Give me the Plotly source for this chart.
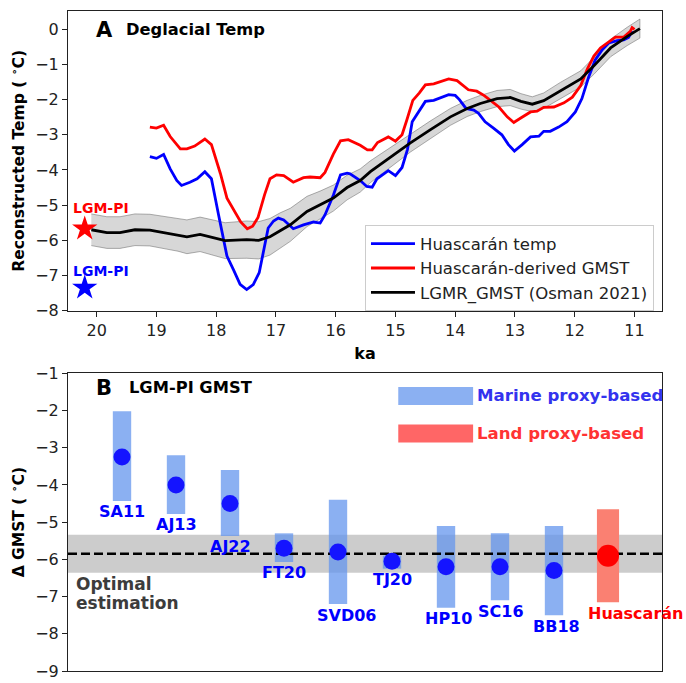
import plotly.graph_objects as go

# ---------------- Panel A: deglacial temperature records ----------------
huascaran_ka = [19.11, 19.00, 18.88, 18.77, 18.66, 18.58, 18.44, 18.32, 18.19, 18.08,
                17.96, 17.82, 17.71, 17.60, 17.49, 17.38, 17.28, 17.21, 17.13, 17.04,
                16.96, 16.87, 16.71, 16.54, 16.37, 16.26, 16.18, 16.04, 15.92, 15.81,
                15.76, 15.59, 15.48, 15.39, 15.31, 15.12, 15.00, 14.89, 14.80, 14.72,
                14.61, 14.50, 14.36, 14.22, 14.11, 14.00, 13.93, 13.82, 13.69, 13.61,
                13.50, 13.36, 13.22, 13.11, 13.01, 12.88, 12.74, 12.60, 12.52, 12.41,
                12.27, 12.13, 11.99, 11.88, 11.77, 11.66, 11.54, 11.43, 11.29, 11.18,
                11.10, 11.04]
huascaran_temp = [-3.62, -3.67, -3.56, -3.97, -4.30, -4.44, -4.35, -4.25, -4.05, -4.25,
                  -5.28, -6.45, -6.84, -7.25, -7.40, -7.26, -6.92, -6.30, -5.65, -5.45,
                  -5.37, -5.42, -5.67, -5.56, -5.48, -5.51, -5.28, -4.72, -4.14, -4.09,
                  -4.11, -4.30, -4.47, -4.49, -4.25, -4.02, -4.16, -3.93, -3.42, -2.63,
                  -2.35, -2.05, -2.02, -1.93, -1.86, -1.88, -2.00, -2.25, -2.30, -2.39,
                  -2.63, -2.81, -3.00, -3.28, -3.46, -3.28, -3.06, -3.04, -2.90, -2.90,
                  -2.78, -2.63, -2.35, -1.97, -1.37, -0.88, -0.58, -0.39, -0.32, -0.30,
                  -0.23, -0.05]

gmst_ka = [19.11, 19.00, 18.88, 18.77, 18.60, 18.49, 18.36, 18.19, 18.08, 17.93,
           17.82, 17.70, 17.59, 17.48, 17.39, 17.30, 17.19, 17.10, 16.99, 16.87,
           16.71, 16.54, 16.43, 16.26, 16.18, 16.04, 15.92, 15.79, 15.59, 15.47,
           15.39, 15.30, 15.12, 15.00, 14.89, 14.81, 14.71, 14.60, 14.50, 14.36,
           14.25, 14.11, 13.97, 13.86, 13.78, 13.64, 13.52, 13.41, 13.27, 13.13,
           13.02, 12.91, 12.74, 12.63, 12.52, 12.35, 12.18, 12.04, 11.90, 11.79,
           11.68, 11.57, 11.46, 11.32, 11.18, 11.07, 11.04, 11.00]
gmst_derived = [-2.78, -2.81, -2.73, -3.05, -3.40, -3.40, -3.32, -3.12, -3.28, -4.10,
                -4.80, -5.15, -5.48, -5.67, -5.60, -5.35, -4.70, -4.25, -4.14, -4.16,
                -4.35, -4.22, -4.20, -4.22, -4.07, -3.55, -3.17, -3.14, -3.30, -3.43,
                -3.43, -3.22, -3.06, -3.18, -3.00, -2.58, -2.02, -1.81, -1.58, -1.55,
                -1.49, -1.41, -1.46, -1.60, -1.72, -1.76, -1.88, -2.02, -2.21, -2.49,
                -2.65, -2.53, -2.35, -2.33, -2.22, -2.21, -2.09, -1.93, -1.60, -1.13,
                -0.76, -0.53, -0.39, -0.22, -0.22, -0.06, 0.05, 0.00]

lgmr_ka = [20.09, 19.83, 19.61, 19.36, 19.11, 18.83, 18.64, 18.49, 18.27, 18.05,
           17.85, 17.49, 17.29, 17.10, 16.93, 16.76, 16.48, 16.26, 16.04, 15.81,
           15.59, 15.42, 15.09, 14.75, 14.42, 14.08, 13.80, 13.58, 13.30, 13.08,
           12.90, 12.71, 12.52, 12.24, 11.90, 11.68, 11.40, 11.12, 10.91]
lgmr_gmst = [-5.70, -5.78, -5.78, -5.70, -5.71, -5.79, -5.84, -5.90, -5.83, -5.92,
             -6.01, -5.98, -6.00, -5.90, -5.72, -5.56, -5.18, -5.00, -4.80, -4.50,
             -4.30, -4.05, -3.65, -3.23, -2.86, -2.49, -2.25, -2.11, -1.97, -1.94,
             -2.05, -2.13, -2.03, -1.74, -1.41, -1.04, -0.53, -0.20, 0.02]
lgmr_sigma = [0.45, 0.45, 0.45, 0.45, 0.45, 0.46, 0.47, 0.48, 0.49, 0.50,
              0.51, 0.53, 0.53, 0.52, 0.50, 0.47, 0.43, 0.40, 0.37, 0.35,
              0.33, 0.31, 0.28, 0.26, 0.25, 0.24, 0.23, 0.23, 0.23, 0.23,
              0.22, 0.21, 0.22, 0.23, 0.23, 0.24, 0.25, 0.26, 0.27]

lgm_pi_ka = 20.2
lgm_pi_gmst = -5.67
lgm_pi_temp = -7.35

x_ticks_a = [20, 19, 18, 17, 16, 15, 14, 13, 12, 11]
y_ticks_a = [0, -1, -2, -3, -4, -5, -6, -7, -8]

# ---------------- Panel B: LGM-PI GMST estimates ----------------
studies = ["SA11", "AJ13", "AJ22", "FT20", "SVD06", "TJ20", "HP10", "SC16", "BB18", "Huascarán"]
study_mean = [-3.25, -4.0, -4.5, -5.7, -5.8, -6.05, -6.2, -6.2, -6.3, -5.9]
study_high = [-2.02, -3.2, -3.6, -5.3, -4.4, -5.9, -5.1, -5.3, -5.1, -4.65]
study_low = [-4.43, -4.78, -5.37, -6.07, -7.2, -6.25, -7.3, -7.1, -7.5, -7.15]
study_kind = ["marine"] * 9 + ["land"]

optimal_mean = -5.85
optimal_high = -5.34
optimal_low = -6.36

y_ticks_b = [-1, -2, -3, -4, -5, -6, -7, -8, -9]

FONT = "DejaVu Sans"
INK = "#222222"
MARINE_BAR = "rgba(100,149,237,0.75)"
LAND_BAR = "rgba(250,128,114,1.0)"

fig = go.Figure()

# Osman LGMR uncertainty envelope
env_x = lgmr_ka + lgmr_ka[::-1]
env_y = [m + s for m, s in zip(lgmr_gmst, lgmr_sigma)] + \
        [m - s for m, s in zip(lgmr_gmst[::-1], lgmr_sigma[::-1])]
fig.add_trace(go.Scatter(x=env_x, y=env_y, fill="toself", mode="lines",
                         fillcolor="rgba(150,150,150,0.38)",
                         line=dict(color="rgba(110,110,110,0.55)", width=1),
                         showlegend=False, hoverinfo="skip", xaxis="x", yaxis="y"))

fig.add_trace(go.Scatter(x=huascaran_ka, y=huascaran_temp, mode="lines",
                         line=dict(color="#0000ff", width=2.8),
                         name="Huascarán temp", xaxis="x", yaxis="y"))
fig.add_trace(go.Scatter(x=gmst_ka, y=gmst_derived, mode="lines",
                         line=dict(color="#ff0000", width=2.8),
                         name="Huascarán-derived GMST", xaxis="x", yaxis="y"))
fig.add_trace(go.Scatter(x=lgmr_ka, y=lgmr_gmst, mode="lines",
                         line=dict(color="#000000", width=2.8),
                         name="LGMR_GMST (Osman 2021)", xaxis="x", yaxis="y"))

# LGM-PI stars
fig.add_trace(go.Scatter(x=[lgm_pi_ka], y=[lgm_pi_gmst], mode="markers",
                         marker=dict(symbol="star", size=19, color="#ff0000", line=dict(width=0)),
                         showlegend=False, xaxis="x", yaxis="y"))
fig.add_trace(go.Scatter(x=[lgm_pi_ka], y=[lgm_pi_temp], mode="markers",
                         marker=dict(symbol="star", size=19, color="#0000ff", line=dict(width=0)),
                         showlegend=False, xaxis="x", yaxis="y"))

# Panel B: uncertainty bars
positions = list(range(1, len(studies) + 1))
bar_colors = [MARINE_BAR if k == "marine" else LAND_BAR for k in study_kind]
bar_widths = [0.34 if k == "marine" else 0.41 for k in study_kind]
fig.add_trace(go.Bar(x=positions, y=[h - l for h, l in zip(study_high, study_low)],
                     base=study_low, width=bar_widths,
                     marker=dict(color=bar_colors, line=dict(width=0)),
                     showlegend=False, xaxis="x2", yaxis="y2"))

# optimal estimate line
fig.add_trace(go.Scatter(x=[0, len(studies) + 1], y=[optimal_mean, optimal_mean], mode="lines",
                         line=dict(color="#000000", width=2.4, dash="9px,4px"),
                         showlegend=False, xaxis="x2", yaxis="y2"))

dot_colors = ["#1414ff" if k == "marine" else "#ff0000" for k in study_kind]
dot_sizes = [17 if k == "marine" else 22 for k in study_kind]
fig.add_trace(go.Scatter(x=positions, y=study_mean, mode="markers",
                         marker=dict(color=dot_colors, size=dot_sizes, opacity=1,
                                     line=dict(width=0)),
                         showlegend=False, xaxis="x2", yaxis="y2"))

axis_common = dict(showline=True, linecolor=INK, linewidth=1.1, mirror=True,
                   ticks="outside", ticklen=5, tickwidth=1.1, tickcolor=INK,
                   showgrid=False, zeroline=False,
                   tickfont=dict(family=FONT, size=16, color=INK))

fig.update_layout(
    width=686, height=683, autosize=False,
    margin=dict(l=68, r=24, t=9, b=2),
    plot_bgcolor="white", paper_bgcolor="white",
    font=dict(family=FONT, size=16, color=INK),
    barmode="overlay",
    xaxis=dict(domain=[0, 1], anchor="y", range=[20.48, 10.54],
               tickvals=x_ticks_a, ticktext=[str(t) for t in x_ticks_a],
               title=dict(text="<b>ka</b>", font=dict(family=FONT, size=16, color="#000"),
                          standoff=8),
               **axis_common),
    yaxis=dict(domain=[0.546, 1.0], anchor="x", range=[-8, 0.52],
               tickvals=y_ticks_a,
               title=dict(text="<b>Reconstructed Temp ( <sup>∘</sup>C)</b>",
                          font=dict(family=FONT, size=15.5, color="#000"), standoff=6),
               **axis_common),
    xaxis2=dict(domain=[0, 1], anchor="y2", range=[0, len(studies) + 1],
                showticklabels=False, **{k: v for k, v in axis_common.items() if k != "ticks"},
                ticks=""),
    yaxis2=dict(domain=[0, 0.451], anchor="x2", range=[-9, -1],
                tickvals=y_ticks_b,
                title=dict(text="<b>Δ GMST ( <sup>∘</sup>C)</b>",
                           font=dict(family=FONT, size=15.5, color="#000"), standoff=6),
                **axis_common),
    legend=dict(x=0.9865, xanchor="right", y=0.545, yanchor="bottom",
                bgcolor="rgba(255,255,255,0.85)", bordercolor="#cccccc", borderwidth=1,
                font=dict(family=FONT, size=16.5, color=INK), tracegroupgap=0,
                itemwidth=44),
    showlegend=True,
)

annotations = []
# panel titles
annotations.append(dict(text="<b>A</b>", xref="x domain", yref="y domain", x=0.044, y=0.937,
                        xanchor="left", yanchor="middle", showarrow=False,
                        font=dict(family=FONT, size=21, color="#000")))
annotations.append(dict(text="<b>Deglacial Temp</b>", xref="x domain", yref="y domain",
                        x=0.094, y=0.937, xanchor="left", yanchor="middle", showarrow=False,
                        font=dict(family=FONT, size=16.3, color="#000")))
annotations.append(dict(text="<b>B</b>", xref="x2 domain", yref="y2 domain", x=0.044, y=0.952,
                        xanchor="left", yanchor="middle", showarrow=False,
                        font=dict(family=FONT, size=21, color="#000")))
annotations.append(dict(text="<b>LGM-PI GMST</b>", xref="x2 domain", yref="y2 domain",
                        x=0.1, y=0.952, xanchor="left", yanchor="middle", showarrow=False,
                        font=dict(family=FONT, size=16.3, color="#000")))

# LGM-PI labels above the stars
annotations.append(dict(text="<b>LGM-PI</b>", x=lgm_pi_ka, y=lgm_pi_gmst, xref="x", yref="y",
                        xshift=16, yshift=21, showarrow=False,
                        font=dict(family=FONT, size=14, color="#ff0000")))
annotations.append(dict(text="<b>LGM-PI</b>", x=lgm_pi_ka, y=lgm_pi_temp, xref="x", yref="y",
                        xshift=16, yshift=17, showarrow=False,
                        font=dict(family=FONT, size=14, color="#0000ff")))

# study labels below each bar
label_xshift = [0, 0, 0, 0, 8, 0, 2, 1, 2, 27]
for pos, name, low, kind, dx in zip(positions, studies, study_low, study_kind, label_xshift):
    annotations.append(dict(text=f"<b>{name}</b>", x=pos, y=low, xref="x2", yref="y2",
                            xshift=dx, yshift=-11, yanchor="middle", showarrow=False,
                            font=dict(family=FONT, size=16,
                                      color="#0000ff" if kind == "marine" else "#ff0000")))

# two-line note next to the optimal-estimate band
for k, word in enumerate(["Optimal", "estimation"]):
    annotations.append(dict(text=f"<b>{word}</b>", xref="x2 domain", yref="y2",
                            x=0.01, y=optimal_low, xanchor="left", yanchor="middle",
                            yshift=-11 - 19 * k, showarrow=False,
                            font=dict(family=FONT, size=17, color="#3c3c3c")))

# panel B legend labels
annotations.append(dict(text="<b>Marine proxy-based</b>", xref="x2 domain", yref="y2 domain",
                        x=0.685, y=0.924, xanchor="left", yanchor="middle", showarrow=False,
                        font=dict(family=FONT, size=16.6, color="#3333ee")))
annotations.append(dict(text="<b>Land proxy-based</b>", xref="x2 domain", yref="y2 domain",
                        x=0.685, y=0.798, xanchor="left", yanchor="middle", showarrow=False,
                        font=dict(family=FONT, size=16.6, color="#ff3333")))

shapes = [
    dict(type="rect", xref="x2 domain", yref="y2", x0=0, x1=1,
         y0=optimal_low, y1=optimal_high, fillcolor="rgba(128,128,128,0.4)",
         line=dict(width=0), layer="below"),
    dict(type="rect", xref="x2 domain", yref="y2 domain", x0=0.556, x1=0.682,
         y0=0.894, y1=0.954, fillcolor=MARINE_BAR, line=dict(width=0)),
    dict(type="rect", xref="x2 domain", yref="y2 domain", x0=0.556, x1=0.682,
         y0=0.768, y1=0.828, fillcolor="rgba(255,0,0,0.6)", line=dict(width=0)),
]

fig.update_layout(annotations=annotations, shapes=shapes)

fig.write_html("out.html")
